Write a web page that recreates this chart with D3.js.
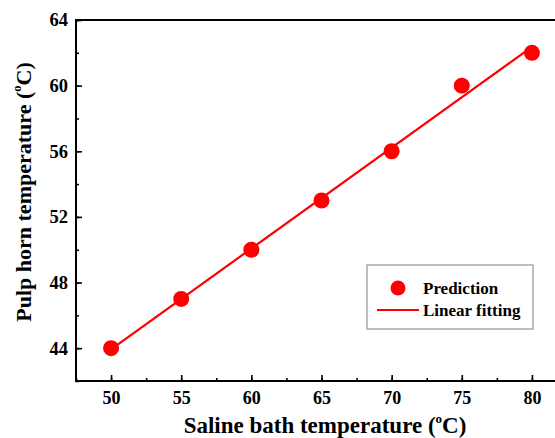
<!DOCTYPE html>
<html>
<head>
<meta charset="utf-8">
<script src="https://cdn.jsdelivr.net/npm/d3@7"></script>
<style>
  body { margin: 0; background: #fff; }
  text { font-family: "Liberation Serif", "Times New Roman", serif; font-weight: bold; fill: #000; }
</style>
</head>
<body>
<div id="chart-area"></div>
<script>
// data
var bathTemp = [50, 55, 60, 65, 70, 75, 80];
var hornTemp = [44, 47, 50, 53, 56, 60, 62];
var fitX = [50, 80];
var fitY = [43.93, 62.36];
var xTicks = [50, 55, 60, 65, 70, 75, 80];
var yTicks = [44, 48, 52, 56, 60, 64];

var margin = { left: 76, right: 0, top: 20, bottom: 57 };
var totalW = 555, totalH = 438;
var height = totalH - margin.top - margin.bottom;
// plot box runs past the right edge of the picture
var width = 491;

var svg = d3.select("#chart-area")
    .append("svg")
    .attr("width", totalW)
    .attr("height", totalH);

var g = svg.append("g")
    .attr("transform", "translate(" + margin.left + "," + margin.top + ")");

var x = d3.scaleLinear().domain([47.5, 82.5]).range([0, width]);
var y = d3.scaleLinear().domain([42, 64]).range([height, 0]);

// X axis
var xMinor = g.append("g")
    .attr("transform", "translate(0," + height + ")")
    .call(d3.axisBottom(x).tickValues(d3.range(47.5, 82.6, 2.5)).tickSize(-3).tickFormat(""));
xMinor.select(".domain").remove();
var xMajor = g.append("g")
    .attr("transform", "translate(0," + height + ")")
    .call(d3.axisBottom(x).tickValues(xTicks).tickSize(-6).tickPadding(10).tickFormat(d3.format("d")));
xMajor.select(".domain").remove();
xMajor.selectAll("text").attr("font-size", "18px").attr("fill", "#000");

// Y axis
var yMinor = g.append("g")
    .call(d3.axisLeft(y).tickValues(d3.range(42, 64.1, 2)).tickSize(-3).tickFormat(""));
yMinor.select(".domain").remove();
var yMajor = g.append("g")
    .call(d3.axisLeft(y).tickValues(yTicks).tickSize(-6).tickPadding(8).tickFormat(d3.format("d")));
yMajor.select(".domain").remove();
yMajor.selectAll("text").attr("font-size", "18.5px").attr("fill", "#000");

g.selectAll(".tick line").attr("stroke", "#000").attr("stroke-width", 1.6);

// frame
g.append("rect")
    .attr("x", 0).attr("y", 0)
    .attr("width", width).attr("height", height)
    .attr("fill", "none")
    .attr("stroke", "#000")
    .attr("stroke-width", 2);

// fit line
var pts = fitX.map(function(d, i) { return [d, fitY[i]]; });
g.append("path")
    .datum(pts)
    .attr("fill", "none")
    .attr("stroke", "#ff0000")
    .attr("stroke-width", 2.2)
    .attr("d", d3.line().x(function(d) { return x(d[0]); }).y(function(d) { return y(d[1]); }));

// points
g.selectAll("circle.pt")
    .data(bathTemp)
    .enter()
    .append("circle")
    .attr("class", "pt")
    .attr("cx", function(d) { return x(d); })
    .attr("cy", function(d, i) { return y(hornTemp[i]); })
    .attr("r", 8)
    .attr("fill", "#ff0000");

// axis labels
var xLabel = svg.append("text")
    .attr("x", 325)
    .attr("y", 433)
    .attr("font-size", "23px")
    .attr("text-anchor", "middle");
xLabel.append("tspan").text("Saline bath temperature (");
xLabel.append("tspan").attr("font-size", "13px").attr("dy", -10).text("o");
xLabel.append("tspan").attr("dy", 10).text("C)");

var yLabel = svg.append("text")
    .attr("transform", "translate(31,192) rotate(-90)")
    .attr("font-size", "22px")
    .attr("text-anchor", "middle");
yLabel.append("tspan").text("Pulp horn temperature (");
yLabel.append("tspan").attr("font-size", "12.5px").attr("dy", -10).text("o");
yLabel.append("tspan").attr("dy", 10).text("C)");

// legend
var leg = svg.append("g").attr("transform", "translate(367,265)");
leg.append("rect")
    .attr("width", 166).attr("height", 64)
    .attr("fill", "#fff")
    .attr("stroke", "#808080")
    .attr("stroke-width", 1);
leg.append("circle").attr("cx", 31).attr("cy", 23).attr("r", 7.5).attr("fill", "#ff0000");
leg.append("line").attr("x1", 10).attr("x2", 52).attr("y1", 45).attr("y2", 45)
    .attr("stroke", "#ff0000").attr("stroke-width", 2.2);
leg.append("text").attr("x", 56).attr("y", 29).attr("font-size", "17px").text("Prediction");
leg.append("text").attr("x", 56).attr("y", 51).attr("font-size", "17px").text("Linear fitting");
</script>
</body>
</html>
